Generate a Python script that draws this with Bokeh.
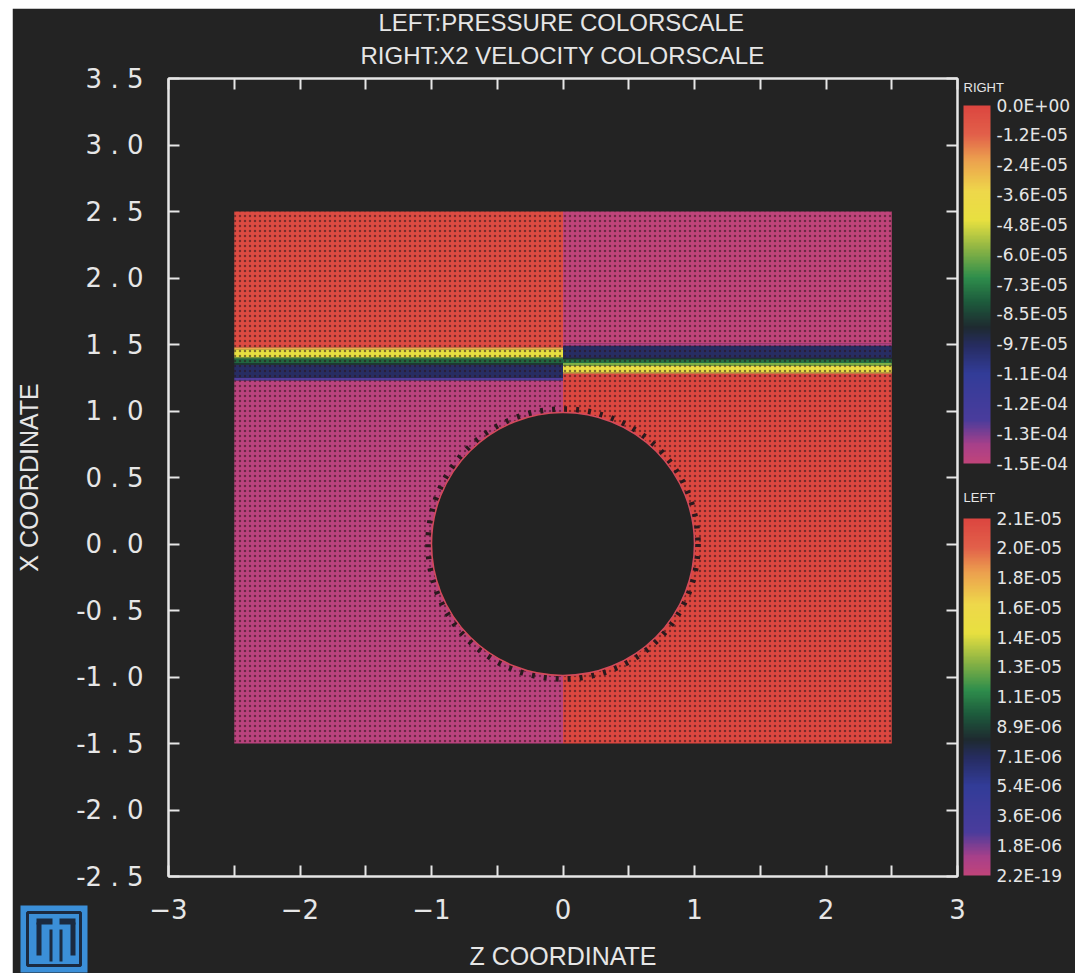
import numpy as np
from bokeh.plotting import figure
from bokeh.models import (LinearColorMapper, ColorBar, FixedTicker, LinearAxis,
                          Range1d, ColumnDataSource, CustomJSTickFormatter)
from bokeh.transform import linear_cmap
from bokeh.embed import file_html
from bokeh.resources import INLINE

# ---------------- data ----------------
title_lines = ["LEFT:PRESSURE COLORSCALE", "RIGHT:X2 VELOCITY COLORSCALE"]
x_axis_label = "Z COORDINATE"
y_axis_label = "X COORDINATE"

z_ticks = [-3, -2, -1, 0, 1, 2, 3]
z_minor_ticks = [-2.5, -1.5, -0.5, 0.5, 1.5, 2.5]
x_ticks = [-2.5, -2.0, -1.5, -1.0, -0.5, 0.0, 0.5, 1.0, 1.5, 2.0, 2.5, 3.0, 3.5]
x_tick_labels = ["-2 . 5", "-2 . 0", "-1 . 5", "-1 . 0", "-0 . 5", "0 . 0", "0 . 5",
                 "1 . 0", "1 . 5", "2 . 0", "2 . 5", "3 . 0", "3 . 5"]

# computational domain: left half (pressure shown) and right half (velocity shown)
left_half_z = [-2.5, 0.0]
right_half_z = [0.0, 2.5]
cylinder_radius = 1.0

# horizontal bands (edges in X coordinate) and values
left_band_edges = [-1.5, 1.23, 1.25, 1.345, 1.36, 1.395, 1.405, 1.465, 1.48, 2.5]
left_band_pressure = [3.0e-7, 2.5e-6, 7.0e-6, 8.6e-6, 1.0e-5, 1.2e-5, 1.45e-5, 1.8e-5, 2.1e-5]

right_band_edges = [-1.5, 1.28, 1.29, 1.34, 1.36, 1.39, 1.40, 1.49, 1.51, 2.5]
right_band_velocity = [-1.0e-6, -2.0e-5, -4.2e-5, -6.0e-5, -7.5e-5, -8.8e-5, -9.8e-5, -1.4e-4, -1.49e-4]

pressure_low, pressure_high = 0.0, 2.14e-5
velocity_low, velocity_high = -1.452e-4, 0.0

# colour-bar tick labels, top to bottom
velocity_labels = ["0.0E+00", "-1.2E-05", "-2.4E-05", "-3.6E-05", "-4.8E-05", "-6.0E-05",
                   "-7.3E-05", "-8.5E-05", "-9.7E-05", "-1.1E-04", "-1.2E-04", "-1.3E-04",
                   "-1.5E-04"]
pressure_labels = ["2.1E-05", "2.0E-05", "1.8E-05", "1.6E-05", "1.4E-05", "1.3E-05",
                   "1.1E-05", "8.9E-06", "7.1E-06", "5.4E-06", "3.6E-06", "1.8E-06",
                   "2.2E-19"]
colorbar_titles = ["RIGHT", "LEFT"]

# ---------------- style ----------------
BG = "#232323"
FG = "#e6e6e6"
anchors = [
    (0.00, "#c0447a"), (0.05, "#a8408a"), (0.12, "#4a3c9c"), (0.25, "#323c98"),
    (0.33, "#262c60"), (0.38, "#1e2a30"), (0.45, "#1d5a3c"), (0.52, "#2f8e4c"),
    (0.60, "#8cb444"), (0.68, "#e8e040"), (0.76, "#eed84a"), (0.85, "#eca04e"),
    (0.92, "#e2604a"), (1.00, "#dc4640"),
]


def hex2rgb(h):
    return [int(h[i:i + 2], 16) for i in (1, 3, 5)]


pos = np.array([a[0] for a in anchors])
rgb = np.array([hex2rgb(a[1]) for a in anchors], dtype=float)
t = np.linspace(0, 1, 256)
palette = ["#%02x%02x%02x" % tuple(int(round(np.interp(tt, pos, rgb[:, c]))) for c in range(3))
           for tt in t]

TICK_FONT = "DejaVu Sans"
LBL_FONT = "Liberation Sans"

# ---------------- figure ----------------
p = figure(width=1063, height=965, x_range=Range1d(-3, 3), y_range=Range1d(-2.5, 3.5),
           output_backend="svg", toolbar_location=None, title=None,
           min_border_left=156, min_border_right=118, min_border_top=70, min_border_bottom=97,
           background_fill_color=BG, border_fill_color=BG, outline_line_color=FG,
           outline_line_width=2)
p.margin = (8, 0, 0, 12)
p.grid.visible = False

xa = p.xaxis[0]
xa.ticker = FixedTicker(ticks=z_ticks, minor_ticks=z_minor_ticks)
ya = p.yaxis[0]
ya.ticker = FixedTicker(ticks=x_ticks)
ya.major_label_overrides = {v: s for v, s in zip(x_ticks, x_tick_labels)}


def style_axis(ax):
    ax.axis_line_color = FG
    ax.axis_line_width = 2
    ax.major_tick_line_color = FG
    ax.major_tick_line_width = 2
    ax.minor_tick_line_color = FG
    ax.minor_tick_line_width = 2
    ax.major_tick_in = 11
    ax.major_tick_out = 0
    ax.minor_tick_in = 11
    ax.minor_tick_out = 0


for ax in (xa, ya):
    style_axis(ax)
    ax.major_label_text_color = FG
    ax.major_label_text_font = TICK_FONT
    ax.major_label_text_font_size = "26px"
    ax.axis_label_text_color = FG
    ax.axis_label_text_font = LBL_FONT
    ax.axis_label_text_font_size = "25px"
    ax.axis_label_text_font_style = "normal"
xa.axis_label = x_axis_label
ya.axis_label = y_axis_label
xa.major_label_standoff = 22
xa.axis_label_standoff = 20
ya.major_label_standoff = 25
ya.axis_label_standoff = 30
ya.minor_tick_line_color = None

blank = CustomJSTickFormatter(code="return ''")
top = LinearAxis(ticker=FixedTicker(ticks=z_ticks, minor_ticks=z_minor_ticks), formatter=blank)
right = LinearAxis(ticker=FixedTicker(ticks=x_ticks), formatter=blank)
for ax in (top, right):
    style_axis(ax)
    ax.major_label_standoff = 0
    ax.major_label_text_font_size = "1px"
right.minor_tick_line_color = None
p.add_layout(top, "above")
p.add_layout(right, "right")

# field quads
HATCH = dict(hatch_pattern="dot", hatch_scale=5, hatch_weight=1.6,
             hatch_color="#2a1418", hatch_alpha=0.55)
lsrc = ColumnDataSource(dict(
    left=[left_half_z[0]] * len(left_band_pressure),
    right=[left_half_z[1]] * len(left_band_pressure),
    bottom=left_band_edges[:-1], top=left_band_edges[1:], value=left_band_pressure))
rsrc = ColumnDataSource(dict(
    left=[right_half_z[0]] * len(right_band_velocity),
    right=[right_half_z[1]] * len(right_band_velocity),
    bottom=right_band_edges[:-1], top=right_band_edges[1:], value=right_band_velocity))
p.quad(left="left", right="right", bottom="bottom", top="top", source=lsrc,
       fill_color=linear_cmap("value", palette, pressure_low, pressure_high),
       line_color=None, **HATCH)
p.quad(left="left", right="right", bottom="bottom", top="top", source=rsrc,
       fill_color=linear_cmap("value", palette, velocity_low, velocity_high),
       line_color=None, **HATCH)

# cylinder (with the jagged mesh edge)
p.circle(x=[0], y=[0], radius=cylinder_radius * 1.025, fill_color=None,
         line_color="#2a1a1e", line_width=6, line_dash="3 9")
p.circle(x=[0], y=[0], radius=cylinder_radius, fill_color=BG, line_color="#d24a5a",
         line_width=1.5)


# ---------------- colour bars (in the right margin) ----------------
def make_cb(labels, loc, height):
    n = len(labels) - 1
    mapper = LinearColorMapper(palette=palette, low=0, high=n)
    return ColorBar(color_mapper=mapper, ticker=FixedTicker(ticks=list(range(n + 1))),
                    major_label_overrides={i: labels[n - i] for i in range(n + 1)},
                    location=loc, width=27, height=height, padding=0,
                    major_label_text_color=FG, major_label_text_font=TICK_FONT,
                    major_label_text_font_size="17px", label_standoff=6,
                    major_tick_line_color=None, minor_tick_line_color=None,
                    bar_line_color=None, background_fill_color=None,
                    border_line_color=None)


def margin_text(txt, loc, size):
    # a transparent 1px bar whose single label carries the text (drawn outside the frame)
    return ColorBar(color_mapper=LinearColorMapper(palette=[BG, BG], low=0, high=2),
                    ticker=FixedTicker(ticks=[1]), major_label_overrides={1: txt},
                    location=loc, width=1, height=2, padding=0, scale_alpha=0,
                    label_standoff=0, major_label_text_color=FG,
                    major_label_text_font=LBL_FONT, major_label_text_font_size=size,
                    major_tick_line_color=None, minor_tick_line_color=None,
                    bar_line_color=None, background_fill_color=None,
                    border_line_color=None)


p.add_layout(make_cb(velocity_labels, (795, 413), 358))
p.add_layout(make_cb(pressure_labels, (795, 1), 357))
p.add_layout(margin_text(colorbar_titles[0], (794, 788), "13px"))
p.add_layout(margin_text(colorbar_titles[1], (794, 378), "13px"))

# two-line heading above the frame
p.add_layout(margin_text(title_lines[0], (209, 853), "24px"))
p.add_layout(margin_text(title_lines[1], (191, 820), "24px"))


# ---------------- logo (bottom-left margin) ----------------
def rect_bar(color, x, y, w, h, line=None, lw=1):
    return ColorBar(color_mapper=LinearColorMapper(palette=[color, color], low=0, high=1),
                    ticker=FixedTicker(ticks=[]), location=(x, y), width=w, height=h,
                    padding=0, label_standoff=0, major_label_text_font_size="1px",
                    major_tick_line_color=None, minor_tick_line_color=None,
                    bar_line_color=line, bar_line_width=lw,
                    background_fill_color=None, border_line_color=None)


LOGO_BLUE = "#3b8fd8"
DARK = "#1b2a40"
p.add_layout(rect_bar(LOGO_BLUE, -148, -96, 67, 67))
p.add_layout(rect_bar(LOGO_BLUE, -141, -89, 53, 53, line=DARK, lw=3))
p.add_layout(rect_bar(DARK, -132, -79, 5, 33))      # left wing tip
p.add_layout(rect_bar(DARK, -98, -79, 5, 33))       # right wing tip
p.add_layout(rect_bar(DARK, -132, -48, 16, 6))      # left shoulder
p.add_layout(rect_bar(DARK, -109, -48, 16, 6))      # right shoulder
p.add_layout(rect_bar(DARK, -119, -85, 3, 32))      # body left edge
p.add_layout(rect_bar(DARK, -109, -85, 3, 32))      # body right edge

open("out.html", "w").write(file_html(p, INLINE))
